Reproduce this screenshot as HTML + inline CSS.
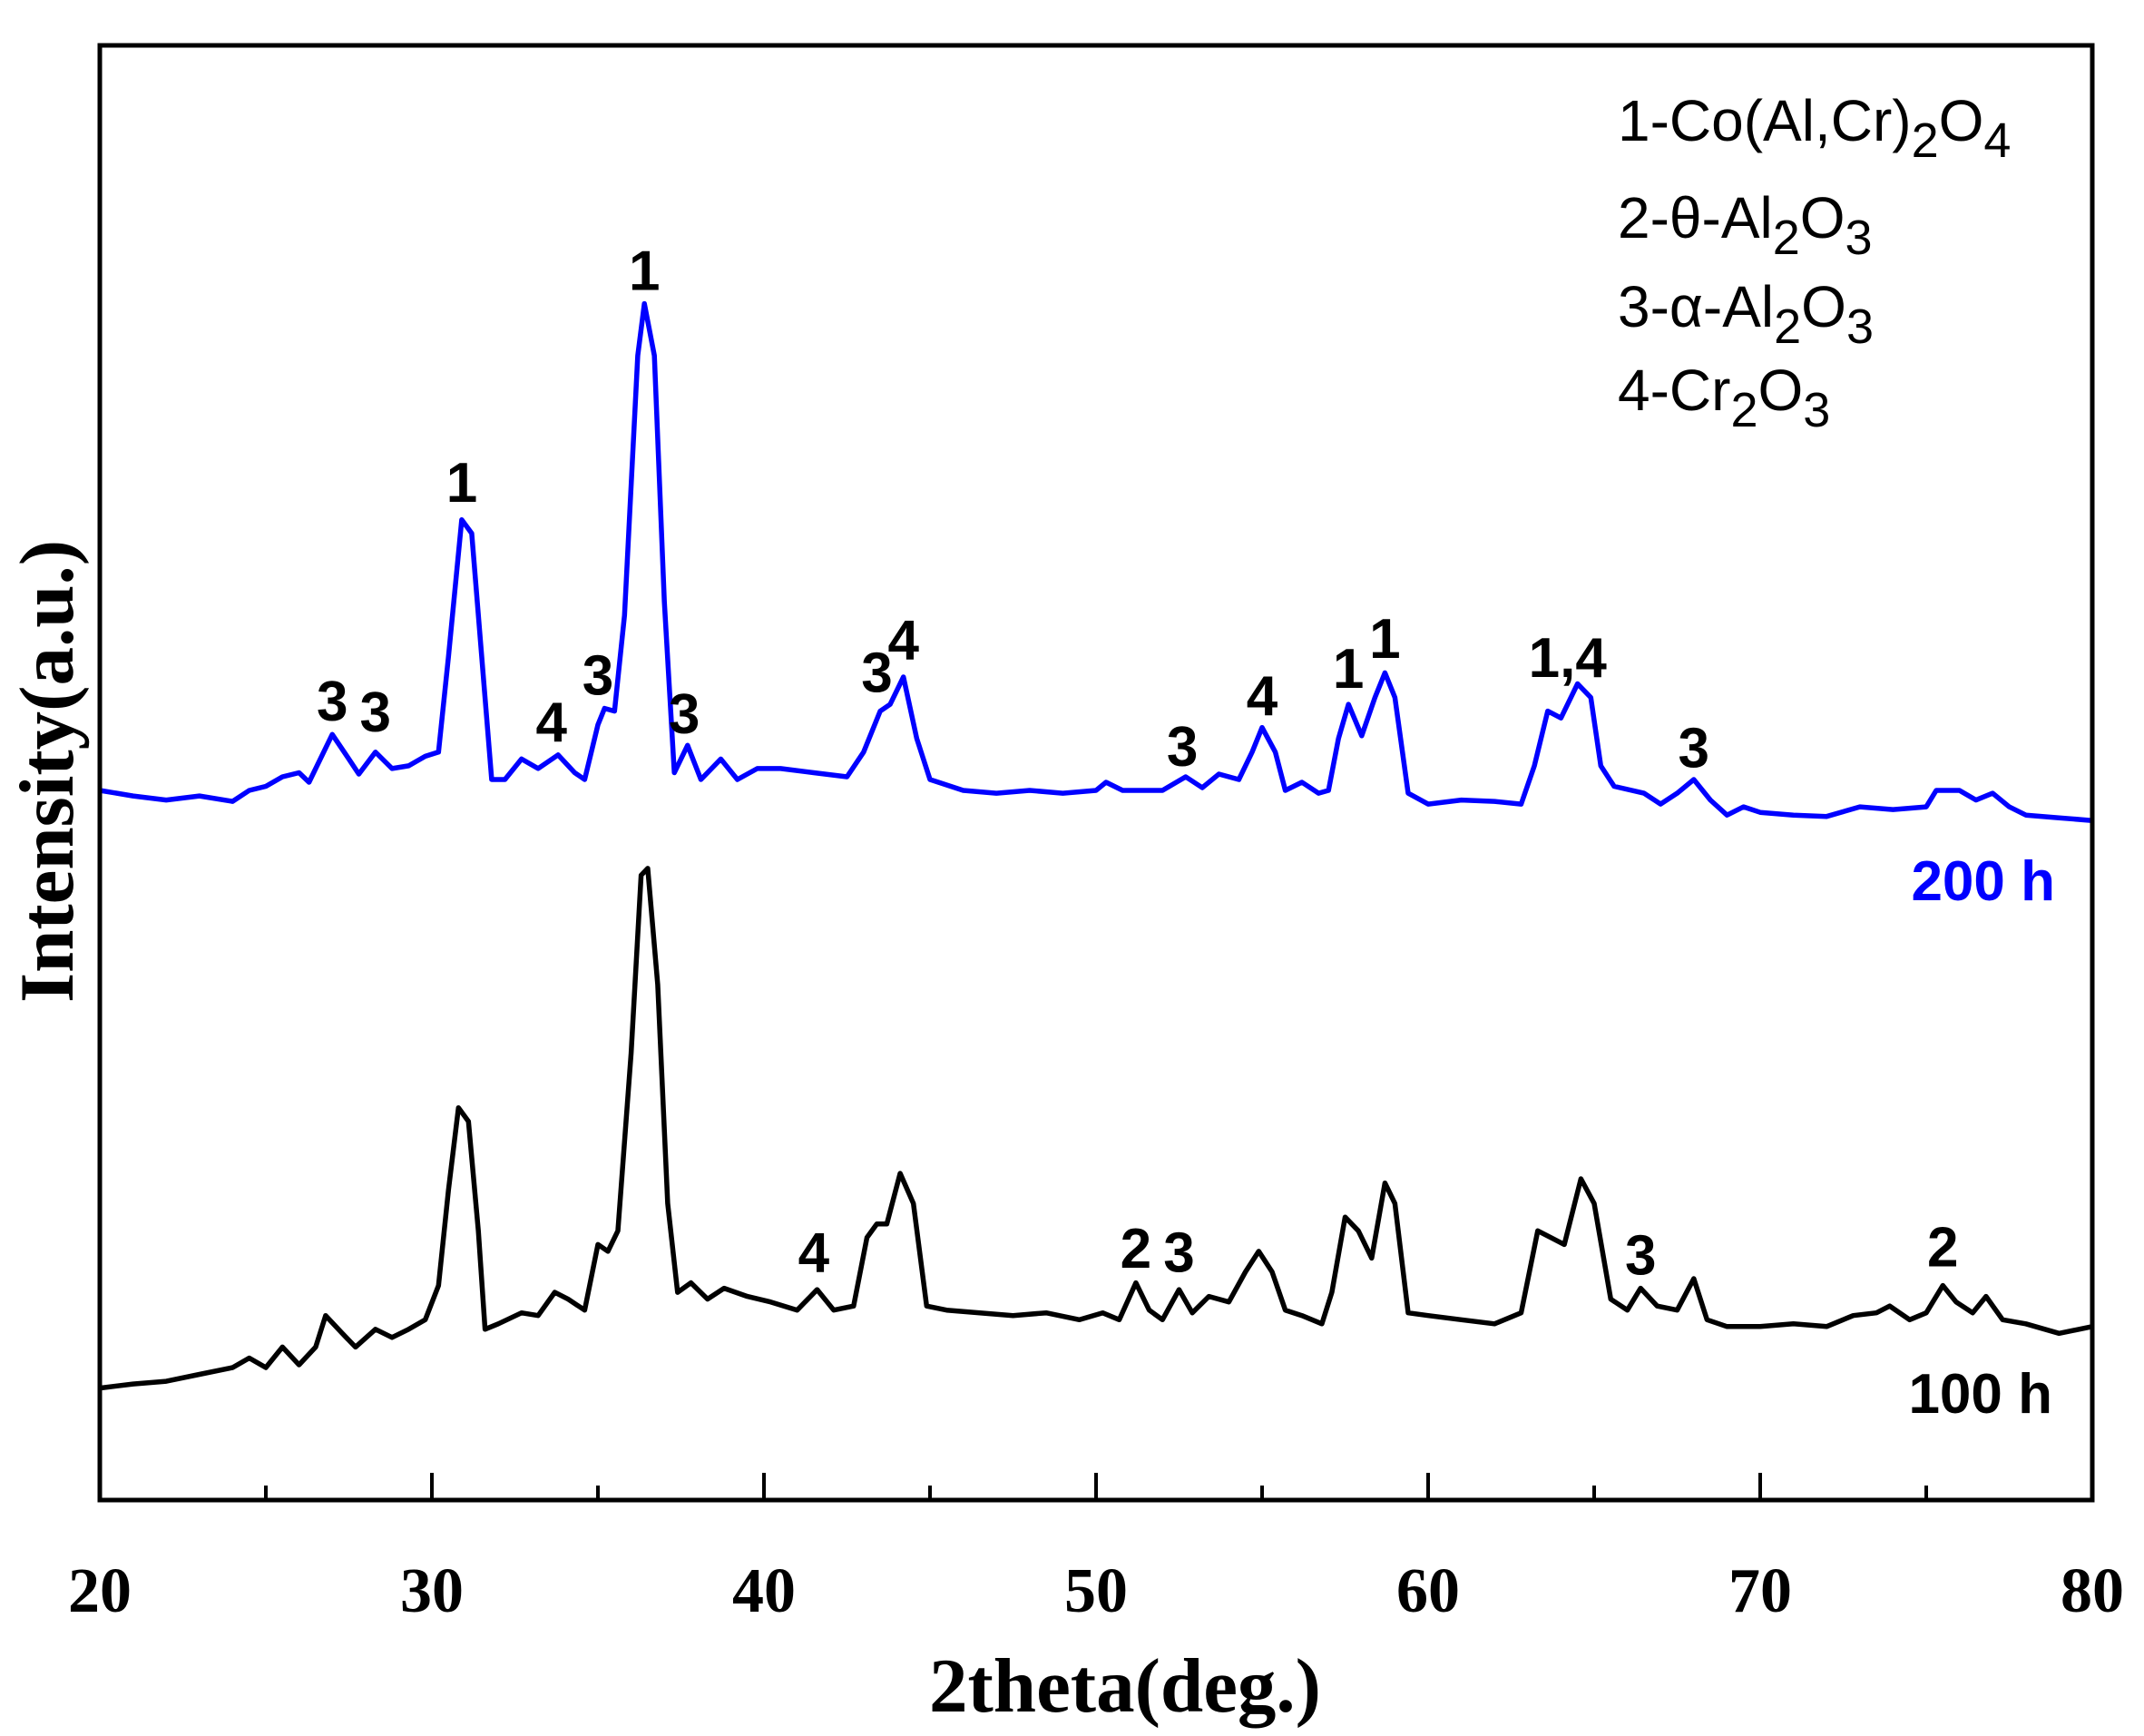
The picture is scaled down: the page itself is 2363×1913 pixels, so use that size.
<!DOCTYPE html>
<html><head><meta charset="utf-8">
<style>
html,body{margin:0;padding:0;background:#fff;}
svg{display:block;}
.tick{font-family:"Liberation Serif",serif;font-weight:bold;font-size:70px;}
.ttl{font-family:"Liberation Serif",serif;font-weight:bold;font-size:85px;}
.pk{font-family:"Liberation Sans",sans-serif;font-weight:bold;font-size:62px;}
.lg{font-family:"Liberation Sans",sans-serif;font-size:64px;}
</style></head>
<body>
<svg id="chart" width="2363" height="1913" viewBox="0 0 2363 1913" xmlns="http://www.w3.org/2000/svg">
<rect x="0" y="0" width="2363" height="1913" fill="#fff"/>
<g id="plot"></g>
<rect x="110" y="50" width="2196" height="1603" fill="none" stroke="#000" stroke-width="5"/>
<text class="ttl" x="1240" y="1886" text-anchor="middle">2theta(deg.)</text>
<text class="ttl" transform="translate(80,850) rotate(-90)" text-anchor="middle">Intensity(a.u.)</text>
<g>
<text class="lg" x="1783" y="155">1-Co(Al,Cr)<tspan dy="18" font-size="54">2</tspan><tspan dy="-18">O</tspan><tspan dy="18" font-size="54">4</tspan></text>
<text class="lg" x="1783" y="262">2-θ-Al<tspan dy="18" font-size="54">2</tspan><tspan dy="-18">O</tspan><tspan dy="18" font-size="54">3</tspan></text>
<text class="lg" x="1783" y="360">3-α-Al<tspan dy="18" font-size="54">2</tspan><tspan dy="-18">O</tspan><tspan dy="18" font-size="54">3</tspan></text>
<text class="lg" x="1783" y="452">4-Cr<tspan dy="18" font-size="54">2</tspan><tspan dy="-18">O</tspan><tspan dy="18" font-size="54">3</tspan></text>
</g>
<text class="pk" x="2265" y="992" text-anchor="end" fill="#0000ff">200 h</text>
<text class="pk" x="2262" y="1557" text-anchor="end" fill="#000">100 h</text>
</svg>
<script>
const xTicks=[20,30,40,50,60,70,80];
const xMinor=[25,35,45,55,65,75];
const blueX=[20,21,22,23,24,24.5,25,25.5,26,26.3,27,27.5,27.8,28.3,28.8,29.3,29.8,30.2,30.5,30.9,31.2,31.5,31.8,32.2,32.7,33.2,33.8,34.3,34.6,35.0,35.2,35.5,35.8,36.2,36.4,36.7,37.0,37.3,37.7,38.1,38.7,39.2,39.8,40.5,41.5,42.5,43.0,43.5,43.8,44.2,44.6,45,46,47,48,49,50,50.3,50.8,52,52.7,53.2,53.7,54.3,54.7,55.0,55.4,55.7,56.2,56.7,57.0,57.3,57.6,58.0,58.4,58.7,59.0,59.4,60,61,62,62.8,63.2,63.6,64.0,64.5,64.9,65.2,65.6,66.5,67,67.5,68.0,68.5,69,69.5,70,71,72,73,74,75,75.3,76,76.5,77,77.5,78,79,80];
const blueY=[522,518,515,518,514,522,525,532,535,528,563,545,534,550,538,540,547,550,620,720,710,620,530,530,545,538,548,535,530,570,582,580,650,840,878,840,660,535,555,530,545,530,538,538,535,532,550,580,585,605,560,530,522,520,522,520,522,528,522,522,532,524,534,530,550,568,550,522,528,520,522,560,585,562,590,608,590,520,512,515,514,512,540,580,575,600,590,540,525,520,512,520,530,515,504,510,506,504,503,510,508,510,522,522,515,520,510,504,502,500];
const blackX=[20,21,22,23,24,24.5,25,25.5,26,26.5,26.8,27.3,27.7,28.3,28.8,29.3,29.8,30.2,30.5,30.8,31.1,31.4,31.6,32,32.7,33.2,33.7,34.1,34.6,35.0,35.3,35.6,36.0,36.3,36.5,36.8,37.1,37.4,37.8,38.3,38.8,39.5,40.2,41,41.6,42.1,42.7,43.1,43.4,43.7,44.1,44.5,44.9,45.5,46.5,47.5,48.5,49.5,50.2,50.7,51.2,51.6,52.0,52.5,52.9,53.4,54.0,54.5,54.9,55.3,55.7,56.2,56.8,57.1,57.5,57.9,58.3,58.7,59.0,59.4,60,61,62,62.8,63.3,63.7,64.1,64.6,65.0,65.5,66.0,66.4,66.9,67.5,68.0,68.4,69,70,71,72,72.8,73.5,73.9,74.5,75,75.5,75.9,76.4,76.8,77.3,78,79,80];
const blackY=[85,88,90,95,100,107,100,115,102,115,138,125,115,128,122,128,135,160,230,290,280,200,128,132,140,138,155,150,142,190,185,200,330,460,465,380,220,155,162,150,158,152,148,142,157,142,145,195,205,205,242,220,145,142,140,138,140,135,140,135,162,142,135,157,140,152,148,170,185,170,142,138,132,155,210,200,180,235,220,140,138,135,132,140,200,195,190,238,220,150,142,158,145,142,165,135,130,130,132,130,138,140,145,135,140,160,148,140,152,135,132,125,130];
const blueLabels=["3","3","1","4","3","1","3","3","4","3","4","1","1","1,4","3"];
const blueLabelX=[27.0,28.3,30.9,33.6,35.0,36.4,37.6,43.4,44.2,52.6,55.0,57.6,58.7,64.2,68.0];
const blueLabelY=[573,565,733,558,592,888,564,594,618,540,577,597,619,605,539];
const blackLabels=["4","2","3","3","2"];
const blackLabelX=[41.5,51.2,52.5,66.4,75.5];
const blackLabelY=[170,173,170,168,174];
const X0=20,X1=80,PX0=110,PX1=2306;
function xs(v){return PX0+(v-X0)/(X1-X0)*(PX1-PX0);}
function ys(v){return (1100-v)*1.507;}
const NS="http://www.w3.org/2000/svg";
const plot=document.getElementById('plot');
function path(xa,ya,color,name){
  let d="";
  for(let i=0;i<xa.length;i++){d+=(i?"L":"M")+xs(xa[i]).toFixed(1)+","+ys(ya[i]).toFixed(1);}
  const p=document.createElementNS(NS,'path');
  p.setAttribute('d',d);p.setAttribute('fill','none');p.setAttribute('stroke',color);
  p.setAttribute('stroke-width','5.5');p.setAttribute('stroke-linejoin','round');
  
  
  plot.appendChild(p);
}
path(blackX,blackY,'#000','series-100h');
path(blueX,blueY,'#0000ff','series-200h');
function lbl(t,x,y,name){
  const e=document.createElementNS(NS,'text');
  e.setAttribute('class','pk');e.setAttribute('x',xs(x));e.setAttribute('y',ys(y));
  e.setAttribute('text-anchor','middle');e.textContent=t;
  
  
  plot.appendChild(e);
}
blueLabels.forEach((t,i)=>lbl(t,blueLabelX[i],blueLabelY[i],'peak-label-200h'));
blackLabels.forEach((t,i)=>lbl(t,blackLabelX[i],blackLabelY[i],'peak-label-100h'));
function tick(v,len,name){
  const l=document.createElementNS(NS,'line');
  l.setAttribute('x1',xs(v));l.setAttribute('x2',xs(v));l.setAttribute('y1',1653);l.setAttribute('y2',1653-len);
  l.setAttribute('stroke','#000');l.setAttribute('stroke-width','4');
  
  
  plot.appendChild(l);
}
xTicks.forEach(v=>{
  tick(v,30,'x-major-tick');
  const t=document.createElementNS(NS,'text');
  t.setAttribute('class','tick');t.setAttribute('x',xs(v));t.setAttribute('y',1776);
  t.setAttribute('text-anchor','middle');t.textContent=v;
  
  
  plot.appendChild(t);
});
xMinor.forEach(v=>tick(v,16,'x-minor-tick'));
</script>
</body></html>
